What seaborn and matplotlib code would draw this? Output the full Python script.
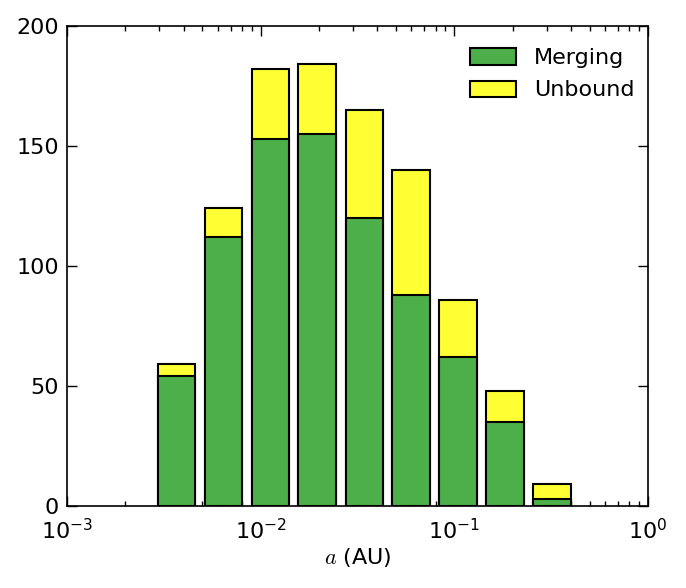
import matplotlib
matplotlib.use("Agg")
import matplotlib.pyplot as plt
import pandas as pd
import seaborn as sns
from matplotlib.patches import Patch

# bin centres in AU (log-spaced) and counts per bin
a_bins = [0.00367, 0.00641, 0.01122, 0.01959, 0.03428, 0.05984, 0.1045, 0.1828, 0.3192]
merging = [54, 112, 153, 155, 120, 88, 62, 35, 3]
unbound = [5, 12, 29, 29, 45, 52, 24, 13, 6]

green = "#4daf4a"
yellow = "#ffff33"

sns.set_style("ticks", {"xtick.direction": "in", "ytick.direction": "in",
                        "xtick.top": True, "ytick.right": True,
                        "axes.edgecolor": "black", "text.color": "black",
                        "xtick.color": "black", "ytick.color": "black",
                        "axes.labelcolor": "black"})
plt.rcParams["font.family"] = ["DejaVu Sans"]
plt.rcParams["mathtext.fontset"] = "cm"
plt.rcParams["axes.linewidth"] = 1.2

df = pd.DataFrame({"a": a_bins, "Merging": merging,
                   "Unbound": unbound})
df["Total"] = df["Merging"] + df["Unbound"]

fig = plt.figure(figsize=(6.86, 5.88), dpi=100)
ax = fig.add_axes([0.0977, 0.1395, 0.8469, 0.8163])

sns.barplot(data=df, x="a", y="Total", native_scale=True, log_scale=(True, False),
            color=yellow, saturation=1, edgecolor="black", linewidth=1.5,
            errorbar=None, width=0.8, ax=ax)
sns.barplot(data=df, x="a", y="Merging", native_scale=True,
            color=green, saturation=1, edgecolor="black", linewidth=1.5,
            errorbar=None, width=0.8, ax=ax)

ax.set_xscale("log")
ax.set_xlim(1e-3, 1)
ax.set_ylim(0, 200)
ax.set_yticks([0, 50, 100, 150, 200])
ax.tick_params(which="major", length=7, width=1, labelsize=16, pad=6)
ax.tick_params(which="minor", length=3.5, width=1)
ax.tick_params(axis="x", which="both", top=True, direction="in", pad=9)
ax.tick_params(axis="y", which="both", right=True, direction="in")

ax.set_xlabel("$a$ (AU)", fontsize=16, labelpad=2)
ax.set_ylabel("")

handles = [Patch(facecolor=green, edgecolor="black", linewidth=1.5),
           Patch(facecolor=yellow, edgecolor="black", linewidth=1.5)]
ax.legend(handles, ["Merging", "Unbound"], loc="upper right", frameon=False,
          fontsize=16, handlelength=2.1, handleheight=0.75, borderaxespad=0.6,
          bbox_to_anchor=(1.015, 1.0), labelspacing=0.55)

plt.savefig("out.png", dpi=100)
